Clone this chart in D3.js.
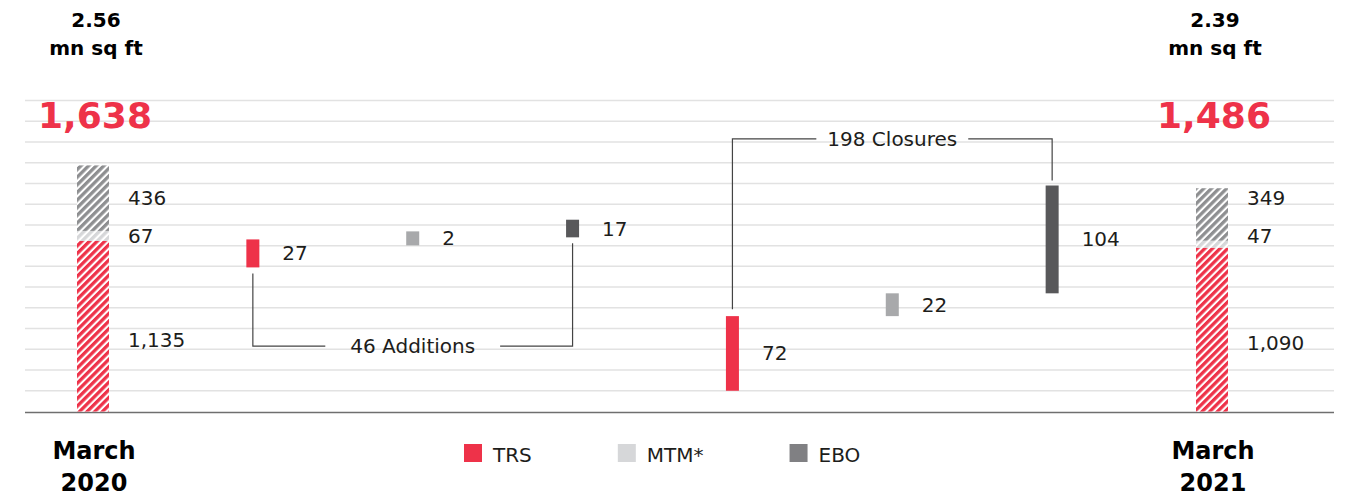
<!DOCTYPE html>
<html>
<head>
<meta charset="utf-8">
<script src="https://cdn.jsdelivr.net/npm/d3@7"></script>
<style>
  html, body { margin: 0; padding: 0; background: #fff; }
  svg { display: block; font-family: "DejaVu Sans", sans-serif; }
</style>
</head>
<body>
<svg id="chart" width="1351" height="497"></svg>
<script>
// Data
const periods = ["March 2020", "March 2021"];
const areaLabels = ["2.56", "2.39"];          // mn sq ft
const segments = ["TRS", "MTM*", "EBO"];
const startValues = [1135, 67, 436];          // March 2020 stack
const endValues = [1090, 47, 349];            // March 2021 stack
const additions = [27, 2, 17];
const closures = [72, 22, 104];
// where the floating waterfalls start on the (not to scale) change axis
const additionsStart = 139;
const closuresStart = 20;

const W = 1351, H = 497;
const svg = d3.select("#chart");

const red = "#EE3249", light = "#D6D7D9", grey = "#8E8F91";
const barColors = { "TRS": red, "MTM*": "#A8A9AB", "EBO": "#58585A" };
const hatchColors = { "TRS": red, "MTM*": light, "EBO": grey };
const legendColors = { "TRS": red, "MTM*": light, "EBO": "#808083" };
const textColor = "#1d1d1b";

/*
 * Scales
 */
const slots = [periods[0]]
    .concat(segments.map(s => "add " + s))
    .concat(segments.map(s => "close " + s))
    .concat([periods[1]]);

const x = d3.scalePoint().domain(slots).range([93, 1212]);

const yTop = 100.5, yBase = 411.5;
// totals use their own scale, the change bars are drawn on a larger one
const y = d3.scaleLinear().domain([0, 2070]).range([yBase, yTop]);
const yc = d3.scaleLinear().domain([0, 300]).range([yBase, yTop]);

/*
 * Hatch patterns
 */
const defs = svg.append("defs");
segments.forEach((s, i) => {
    const p = defs.append("pattern")
        .attr("id", "hatch" + i)
        .attr("patternUnits", "userSpaceOnUse")
        .attr("width", 5.4)
        .attr("height", 5.4)
        .attr("patternTransform", "rotate(45)");
    p.append("rect").attr("width", 5.4).attr("height", 5.4).attr("fill", "#fff");
    p.append("rect").attr("width", 3.3).attr("height", 5.4).attr("fill", hatchColors[s]);
});

/*
 * Grid
 */
const grid = svg.append("g");
grid.selectAll("line")
    .data(d3.range(20, 301, 20))
    .enter()
    .append("line")
    .attr("x1", 25).attr("x2", 1334)
    .attr("y1", d => yc(d)).attr("y2", d => yc(d))
    .attr("stroke", "#E2E2E2")
    .attr("stroke-width", 1.5);

grid.append("line")
    .attr("x1", 25).attr("x2", 1334)
    .attr("y1", yc(0) + 1).attr("y2", yc(0) + 1)
    .attr("stroke", "#6f6f6f")
    .attr("stroke-width", 1.6);

/*
 * Stacked totals
 */
const bigW = 32;
const stacks = [startValues, endValues];
let labelRows = null;

stacks.forEach((vals, k) => {
    const cx = x(periods[k]);
    const g = svg.append("g");
    let acc = 0;
    const rows = [];
    vals.forEach((v, i) => {
        const y0 = y(acc), y1 = y(acc + v);
        g.append("rect")
            .attr("x", cx - bigW / 2)
            .attr("y", y1)
            .attr("width", bigW)
            .attr("height", y0 - y1)
            .attr("fill", `url(#hatch${i})`);
        // red label sits a bit below the middle of its segment
        rows.push(i === 0 ? y0 - (y0 - y1) * 0.42 : (y0 + y1) / 2);
        acc += v;
    });
    // labels of both stacks share the rows of the first one
    if (!labelRows) labelRows = rows;
    vals.forEach((v, i) => {
        g.append("text")
            .attr("x", cx + bigW / 2 + 19)
            .attr("y", i === 0 ? rows[i] : labelRows[i])
            .attr("dominant-baseline", "central")
            .attr("font-size", 20)
            .attr("fill", textColor)
            .text(d3.format(",")(v));
    });

    const total = d3.sum(vals);
    g.append("text")
        .attr("x", cx + 2)
        .attr("y", 128)
        .attr("text-anchor", "middle")
        .attr("font-size", 36)
        .attr("font-weight", "bold")
        .attr("fill", red)
        .text(d3.format(",")(total));

    g.append("text")
        .attr("x", cx + 3)
        .attr("y", 27)
        .attr("text-anchor", "middle")
        .attr("font-size", 20)
        .attr("font-weight", "bold")
        .attr("fill", "#000")
        .text(areaLabels[k]);
    g.append("text")
        .attr("x", cx + 3)
        .attr("y", 55)
        .attr("text-anchor", "middle")
        .attr("font-size", 20)
        .attr("font-weight", "bold")
        .attr("fill", "#000")
        .text("mn sq ft");

    const [month, year] = periods[k].split(" ");
    g.append("text")
        .attr("x", cx + 1)
        .attr("y", 459)
        .attr("text-anchor", "middle")
        .attr("font-size", 24)
        .attr("font-weight", "bold")
        .attr("fill", "#000")
        .text(month);
    g.append("text")
        .attr("x", cx + 1)
        .attr("y", 491)
        .attr("text-anchor", "middle")
        .attr("font-size", 24)
        .attr("font-weight", "bold")
        .attr("fill", "#000")
        .text(year);
});

/*
 * Floating change bars
 */
const smallW = 13, minH = 14;
const changeBars = [];
let lvl = additionsStart;
additions.forEach((v, i) => {
    changeBars.push({ slot: "add " + segments[i], seg: segments[i], lo: lvl, hi: lvl + v, value: v });
    lvl += v;
});
lvl = closuresStart;
closures.forEach((v, i) => {
    changeBars.push({ slot: "close " + segments[i], seg: segments[i], lo: lvl, hi: lvl + v, value: v });
    lvl += v;
});

changeBars.forEach(d => {
    const mid = (yc(d.lo) + yc(d.hi)) / 2;
    const h = Math.max(yc(d.lo) - yc(d.hi), minH);
    d.top = mid - h / 2;
    d.bottom = mid + h / 2;
    d.mid = mid;
});

const cb = svg.append("g");
cb.selectAll("rect")
    .data(changeBars)
    .enter()
    .append("rect")
    .attr("x", d => x(d.slot) - smallW / 2)
    .attr("y", d => d.top)
    .attr("width", smallW)
    .attr("height", d => d.bottom - d.top)
    .attr("fill", d => barColors[d.seg]);

cb.selectAll("text")
    .data(changeBars)
    .enter()
    .append("text")
    .attr("x", d => x(d.slot) + smallW / 2 + 23)
    .attr("y", d => d.mid)
    .attr("dominant-baseline", "central")
    .attr("font-size", 20)
    .attr("fill", textColor)
    .text(d => d.value);

/*
 * Bracket annotations
 */
function bracket(first, last, level, label, gap, below) {
    const g = svg.append("g");
    const x1 = x(first.slot), x2 = x(last.slot);
    const yy = yc(level);
    const t = g.append("text")
        .attr("x", (x1 + x2) / 2)
        .attr("y", yy)
        .attr("text-anchor", "middle")
        .attr("dominant-baseline", "central")
        .attr("font-size", 20)
        .attr("fill", textColor)
        .text(label);
    const tw = t.node().getComputedTextLength();
    const a = (x1 + x2) / 2 - tw / 2 - gap;
    const b = (x1 + x2) / 2 + tw / 2 + gap;
    const s1 = below ? first.bottom + 6 : first.top - 7;
    const s2 = below ? last.bottom + 6 : last.top - 5;
    const line = d3.line();
    g.append("path")
        .attr("d", line([[x1, s1], [x1, yy], [a, yy]]))
        .attr("fill", "none").attr("stroke", "#444").attr("stroke-width", 1.2);
    g.append("path")
        .attr("d", line([[b, yy], [x2, yy], [x2, s2]]))
        .attr("fill", "none").attr("stroke", "#444").attr("stroke-width", 1.2);
}

bracket(changeBars[0], changeBars[2], 63, d3.sum(additions) + " Additions", 25, true);
bracket(changeBars[3], changeBars[5], 263, d3.sum(closures) + " Closures", 11, false);

/*
 * Legend
 */
const legend = svg.append("g");
let lx = 464;
segments.forEach(s => {
    legend.append("rect")
        .attr("x", lx).attr("y", 444)
        .attr("width", 18).attr("height", 18)
        .attr("fill", legendColors[s]);
    const t = legend.append("text")
        .attr("x", lx + 29).attr("y", 462)
        .attr("font-size", 20)
        .attr("fill", textColor)
        .text(s);
    lx += 29 + t.node().getComputedTextLength() + 86;
});
</script>
</body>
</html>
